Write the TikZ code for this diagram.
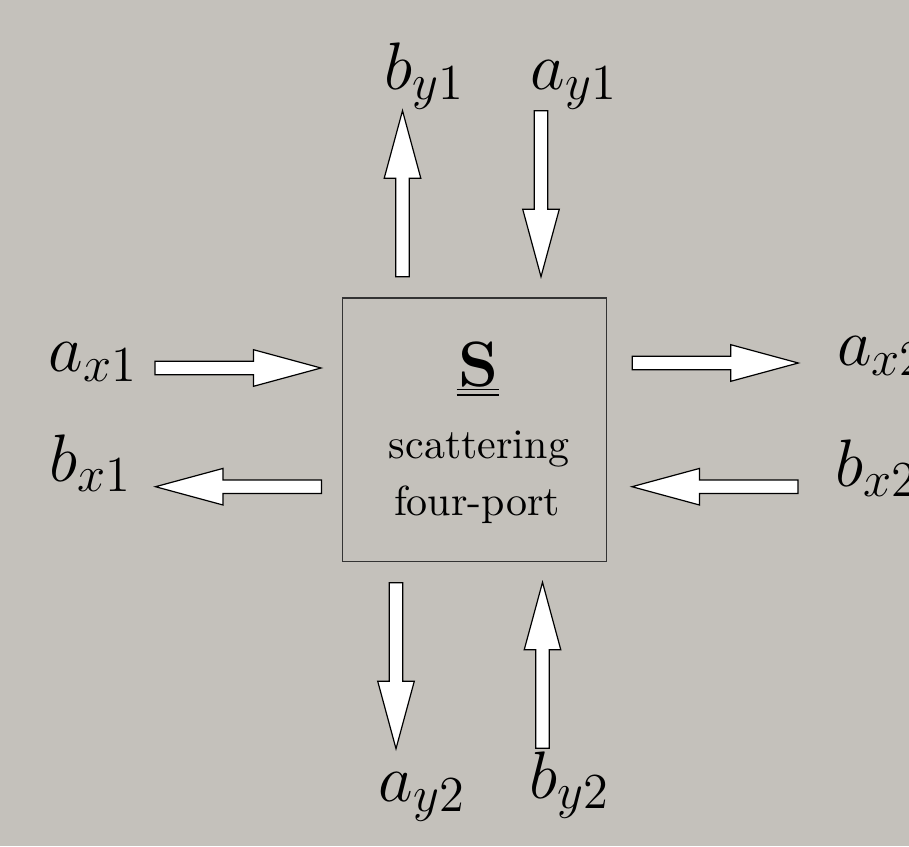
\RequirePackage{fix-cm}
\documentclass[tikz,border=0pt]{standalone}
\definecolor{panelgray}{RGB}{196,193,187}
\DeclareMathSizes{16.8}{16.8}{12.6}{9}
\begin{document}
\begin{tikzpicture}[x=0.25pt, y=-0.25pt,
  port/.style={inner sep=0pt, anchor=base west, font=\fontsize{16.8}{20}\selectfont},
  boxtext/.style={inner sep=0pt, anchor=base, font=\fontsize{10.5}{14}\selectfont},
  blockarrow/.style={draw=black, line width=0.3pt, fill=white, line join=miter}]
  \fill[panelgray] (0,0) rectangle (909,846);
  \useasboundingbox (0,0) rectangle (909,846);
  % block arrows: tail x / tail y / direction
  \foreach \x/\y/\r in {402.5/276.7/90, 541/110.7/-90, 155/368/0, 321.5/486.7/180,
                        632.3/363/0, 798/486.7/180, 396/582.7/-90, 542.5/748.3/90}
    \draw[blockarrow, shift={(\x,\y)}, rotate=\r] (0,-6.7) -- (98.5,-6.7) -- (98.5,-18.3)
      -- (166,0) -- (98.5,18.3) -- (98.5,6.7) -- (0,6.7) -- cycle;
  % four-port
  \node[draw=black!80, line width=0.35pt, inner sep=0pt, minimum width=66pt, minimum height=65.9pt] (box) at (474.7,429.9) {};
  \node[inner sep=0pt, anchor=base, font=\fontsize{16}{19}\selectfont] (S) at (478,386) {$\mathbf{S}$};
  \draw[line width=0.45pt] (456.7,389.5) -- (499,389.5);
  \draw[line width=0.45pt] (456.7,395.2) -- (499,395.2);
  \node[boxtext] (scat) at (479,458) {scattering};
  \node[boxtext] (four) at (477,515) {four-port};
  % port waves
  \node[port] (ax1) at (48,371.7) {$a_{x1}$};
  \node[port] (bx1) at (49,481.7) {$b_{x1}$};
  \node[port] (ax2) at (836.5,365) {$a_{x2}$};
  \node[port] (bx2) at (835,486.7) {$b_{x2}$};
  \node[port] (by1) at (383.5,89.3) {$b_{y1}$};
  \node[port] (ay1) at (530,89.3) {$a_{y1}$};
  \node[port] (ay2) at (378,801.7) {$a_{y2}$};
  \node[port] (by2) at (528.5,798.3) {$b_{y2}$};
\end{tikzpicture}
\end{document}
